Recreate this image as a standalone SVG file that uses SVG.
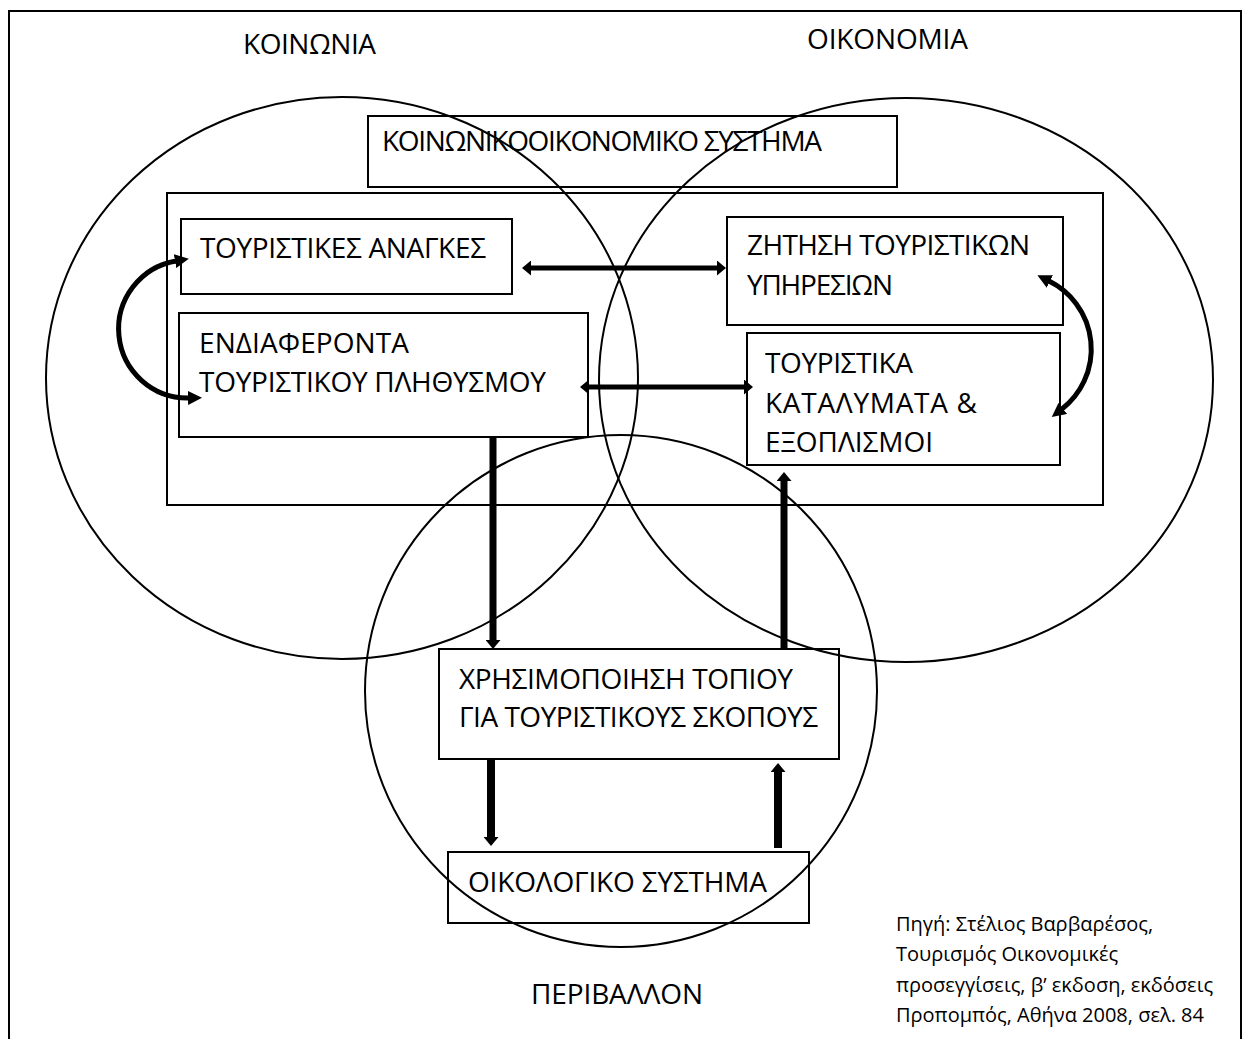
<svg xmlns="http://www.w3.org/2000/svg" width="1245" height="1039" viewBox="0 0 1245 1039">
<style>
text{font-family:"Open Sans","Noto Sans","Liberation Sans",sans-serif;font-size:28px;fill:#000}
.src{font-size:20px}
.box{fill:none;stroke:#000;stroke-width:2}
.circ{fill:none;stroke:#000;stroke-width:2}
.arr{fill:none;stroke:#000}
</style>
<defs>
<marker id="head" viewBox="0 0 9 15" markerWidth="9" markerHeight="15" refX="1" refY="7.5" markerUnits="userSpaceOnUse" orient="auto-start-reverse"><path d="M0,0 L9,7.5 L0,15 z" fill="#000"/></marker>
<marker id="headc" viewBox="0 0 14 14" markerWidth="14" markerHeight="14" refX="1" refY="7" markerUnits="userSpaceOnUse" orient="auto-start-reverse"><path d="M0,0 L14,7 L0,14 z" fill="#000"/></marker>
</defs>
<rect x="0" y="0" width="1245" height="1039" fill="#fff"/>
<rect id="frame" x="9" y="11" width="1232" height="1040" class="box"/>
<g id="circles">
<ellipse id="koinonia-circle" cx="342" cy="378" rx="296" ry="281" class="circ"/>
<ellipse id="oikonomia-circle" cx="906" cy="380" rx="307" ry="282" class="circ"/>
<ellipse id="perivallon-circle" cx="621" cy="691" rx="256" ry="256" class="circ"/>
</g>
<g id="labels">
<text x="243" y="54" textLength="133">ΚΟΙΝΩΝΙΑ</text>
<text x="807" y="49" textLength="161">ΟΙΚΟΝΟΜΙΑ</text>
<text x="531" y="1004" textLength="172">ΠΕΡΙΒΑΛΛΟΝ</text>
</g>
<g id="container"><rect x="167" y="193" width="936" height="312" class="box"/></g>
<g id="socioeconomic">
<rect x="368" y="116" width="529" height="71" class="box"/>
<text x="382" y="151" textLength="440">ΚΟΙΝΩΝΙΚΟΟΙΚΟΝΟΜΙΚΟ ΣΥΣΤΗΜΑ</text>
</g>
<g id="needs">
<rect x="181" y="219" width="331" height="75" class="box"/>
<text x="200" y="258" textLength="286">ΤΟΥΡΙΣΤΙΚΕΣ ΑΝΑΓΚΕΣ</text>
</g>
<g id="interests">
<rect x="179" y="313" width="409" height="124" class="box"/>
<text x="199" y="353" textLength="210">ΕΝΔΙΑΦΕΡΟΝΤΑ</text>
<text x="199" y="392" textLength="347">ΤΟΥΡΙΣΤΙΚΟΥ ΠΛΗΘΥΣΜΟΥ</text>
</g>
<g id="demand">
<rect x="727" y="217" width="336" height="108" class="box"/>
<text x="747" y="255" textLength="283">ΖΗΤΗΣΗ ΤΟΥΡΙΣΤΙΚΩΝ</text>
<text x="747" y="295" textLength="146">ΥΠΗΡΕΣΙΩΝ</text>
</g>
<g id="accommodation">
<rect x="747" y="333" width="313" height="132" class="box"/>
<text x="765" y="373" textLength="148">ΤΟΥΡΙΣΤΙΚΑ</text>
<text x="765" y="413" textLength="212">ΚΑΤΑΛΥΜΑΤΑ &amp;</text>
<text x="765" y="452" textLength="168">ΕΞΟΠΛΙΣΜΟΙ</text>
</g>
<g id="land-use">
<rect x="439" y="649" width="400" height="110" class="box"/>
<text x="459" y="689" textLength="334">ΧΡΗΣΙΜΟΠΟΙΗΣΗ ΤΟΠΙΟΥ</text>
<text x="459" y="727" textLength="359">ΓΙΑ ΤΟΥΡΙΣΤΙΚΟΥΣ ΣΚΟΠΟΥΣ</text>
</g>
<g id="ecosystem">
<rect x="448" y="852" width="361" height="71" class="box"/>
<text x="468" y="892" textLength="299">ΟΙΚΟΛΟΓΙΚΟ ΣΥΣΤΗΜΑ</text>
</g>
<g id="source">
<text class="src" x="896" y="931">Πηγή: Στέλιος Βαρβαρέσος,</text>
<text class="src" x="896" y="961">Τουρισμός Οικονομικές</text>
<text class="src" x="896" y="992">προσεγγίσεις, β’ εκδοση, εκδόσεις</text>
<text class="src" x="896" y="1022">Προπομπός, Αθήνα 2008, σελ. 84</text>
</g>
<g id="connectors">
<path class="arr" d="M530,268 H718" stroke-width="5" marker-start="url(#head)" marker-end="url(#head)"/>
<path class="arr" d="M588,387 H745" stroke-width="5" marker-start="url(#head)" marker-end="url(#head)"/>
<path class="arr" d="M493,436 V641" stroke-width="7" marker-end="url(#head)"/>
<path class="arr" d="M784,649 V480" stroke-width="7" marker-end="url(#head)"/>
<path class="arr" d="M491,759 V838" stroke-width="8" marker-end="url(#head)"/>
<path class="arr" d="M778,848 V771" stroke-width="8" marker-end="url(#head)"/>
<path class="arr" d="M176,261 A69,69 0 0 0 189,398" stroke-width="5" marker-start="url(#headc)" marker-end="url(#headc)"/>
<path class="arr" d="M1049,281 A76,76 0 0 1 1062,409" stroke-width="5" marker-start="url(#headc)" marker-end="url(#headc)"/>
</g>
</svg>
